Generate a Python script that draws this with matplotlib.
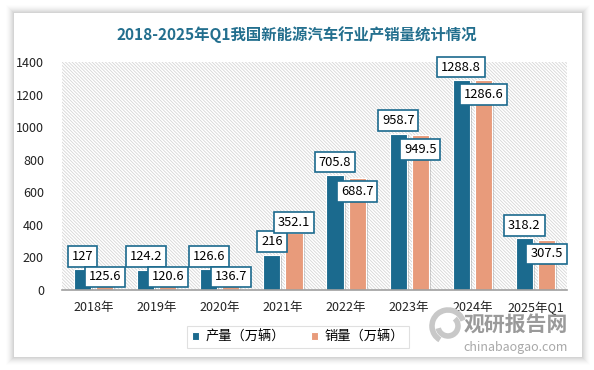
import matplotlib.pyplot as plt
import matplotlib.patheffects as pe
from matplotlib.patches import Rectangle, Arc
import numpy as np

plt.rcParams['font.family'] = ['Noto Sans CJK SC', 'DejaVu Sans']
plt.rcParams['hatch.linewidth'] = 0.6

years = ['2018年', '2019年', '2020年', '2021年', '2022年', '2023年', '2024年', '2025年Q1']
production = [127, 124.2, 126.6, 216, 705.8, 958.7, 1288.8, 318.2]
sales = [125.6, 120.6, 136.7, 352.1, 688.7, 949.5, 1286.6, 307.5]

BLUE = '#1b6a8e'
ORANGE = '#e89b7b'


def fmt(v):
    return ('%g' % v)


def main():
    fig = plt.figure(figsize=(5.94, 3.70), dpi=100)
    fig.patch.set_facecolor('white')

    # card shadow
    for i, a in enumerate(np.linspace(0.02, 0.10, 8)):
        d = (8 - i) / 594
        dy = (8 - i) / 370
        fig.patches.append(Rectangle((14 / 594 - d, 13 / 370 - dy), 568 / 594 + 2 * d, 344 / 370 + 2 * dy,
                                     transform=fig.transFigure, facecolor='#000000', alpha=a * 0.35,
                                     edgecolor='none', zorder=-3))
    fig.patches.append(Rectangle((14 / 594, 13 / 370), 568 / 594, 344 / 370, transform=fig.transFigure,
                                 facecolor='white', edgecolor='none', zorder=-2))

    ax = fig.add_axes([62 / 594, 1 - 290 / 370, 505 / 594, 228 / 370])
    ax.set_facecolor('none')
    ax.add_patch(Rectangle((0, 0), 1, 1, transform=ax.transAxes, facecolor='white',
                           edgecolor='#d6d6d6', hatch='\\' * 10, lw=0, zorder=0))

    x = np.arange(len(years))
    w = 0.27
    off = 0.175
    shadow = [pe.SimplePatchShadow(offset=(1.5, -1), shadow_rgbFace='#7f7f7f', alpha=0.35), pe.Normal()]
    b1 = ax.bar(x - off, production, w, color=BLUE, edgecolor='white', lw=0.8, zorder=2,
                label='产量（万辆）')
    b2 = ax.bar(x + off, sales, w, color=ORANGE, edgecolor='white', lw=0.8, zorder=2,
                label='销量（万辆）')
    for b in list(b1) + list(b2):
        b.set_path_effects(shadow)

    ax.set_xlim(-0.5, 7.5)
    ax.set_ylim(0, 1400)
    ax.set_yticks(range(0, 1401, 200))
    ax.set_xticks(x)
    ax.set_xticklabels(years)
    ax.tick_params(length=0, labelsize=9, colors='#222222')
    ax.tick_params(axis='y', pad=13)
    ax.tick_params(axis='x', pad=8)
    for s in ['top', 'right', 'left']:
        ax.spines[s].set_visible(False)
    ax.spines['bottom'].set_color('#a0a0a0')
    ax.spines['bottom'].set_linewidth(1.2)

    box = dict(boxstyle='square,pad=0.3', facecolor='white', edgecolor=BLUE, lw=1.2)
    pix = 228 / 1400
    for i in range(len(years)):
        ax.annotate(fmt(production[i]), (x[i] - off, production[i]), xytext=(0, 13 * 0.72),
                    textcoords='offset points', ha='center', va='center', fontsize=9.3,
                    bbox=box, zorder=5)
        if sales[i] > production[i] * 1.2:
            dy = 10
        else:
            top = sales[i] * pix
            dy = max(top - 14, 13) - top
        ax.annotate(fmt(sales[i]), (x[i] + off, sales[i]), xytext=(0, dy * 0.72),
                    textcoords='offset points', ha='center', va='center', fontsize=9.3,
                    bbox=box, zorder=6)

    fig.text(297 / 594, 1 - 35 / 370, '2018-2025年Q1我国新能源汽车行业产销量统计情况',
             ha='center', va='center', fontsize=11.1, fontweight='bold', color='#236f8e')

    leg = fig.legend(handles=[b1, b2], loc='center', bbox_to_anchor=(298 / 594, 1 - 337 / 370),
                     ncol=2, fontsize=9.5, frameon=True, fancybox=False, edgecolor='#d9d9d9',
                     handlelength=0.5, handleheight=0.5, handletextpad=0.5, columnspacing=2.0,
                     borderpad=0.35)
    leg.get_frame().set_linewidth(0.8)
    for h in leg.legend_handles:
        h.set_path_effects([])

    # watermark
    for r, t1, t2 in [(16, 30, 250), (10, 200, 60)]:
        fig.patches.append(Arc((448 / 594, 1 - 326 / 370), r * 2 / 594, r * 2 / 370, theta1=t1, theta2=t2,
                               transform=fig.transFigure, color='#c8c8c8', lw=4, zorder=10))
    fig.text(516 / 594, 1 - 324 / 370, '观研报告网', ha='center', va='center', fontsize=15,
             fontweight='bold', color='#9a9a9a', zorder=10)
    fig.text(516 / 594, 1 - 347 / 370, 'chinabaogao.com', ha='center', va='center', fontsize=9,
             color='#a8a8a8', zorder=10)

    fig.savefig('out.png', dpi=100)


if __name__ == '__main__':
    main()
